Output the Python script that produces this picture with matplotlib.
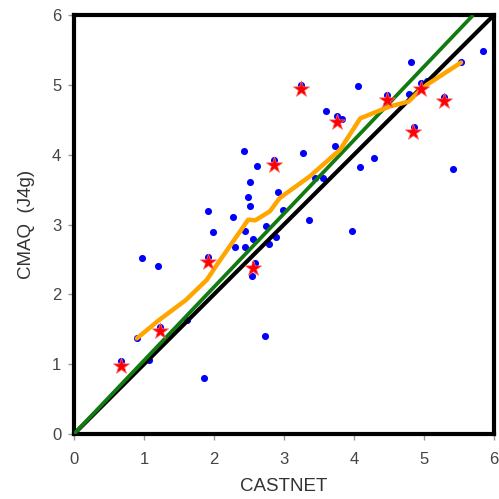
#!/usr/bin/env python3
"""
Scatter of CMAQ (J4g) vs CASTNET with 1:1 line, fit line and running mean.
"""

import matplotlib
matplotlib.use('Agg')
import matplotlib.pyplot as plt

# site values (blue dots)
obs_x = [5.84, 4.81, 4.06, 3.24, 5.53, 4.47, 4.78, 4.96, 5.04, 5.29,
         3.60, 3.76, 3.83, 4.86, 3.73, 3.27, 4.28, 4.09, 5.42, 2.43,
         2.61, 2.86, 2.51, 2.49, 2.52, 2.91, 1.92, 2.27, 2.98, 1.99,
         2.44, 2.74, 2.56, 2.88, 2.30, 2.44, 2.78, 0.97, 1.20, 1.92,
         2.58, 2.54, 2.73, 1.86, 1.61, 3.56, 3.44, 3.36, 3.97, 0.90,
         1.23, 0.68, 1.07]
mod_y = [5.48, 5.33, 4.99, 5.00, 5.32, 4.86, 4.87, 5.02, 5.06, 4.83,
         4.62, 4.55, 4.51, 4.39, 4.13, 4.03, 3.95, 3.83, 3.80, 4.05,
         3.84, 3.92, 3.61, 3.40, 3.27, 3.46, 3.20, 3.11, 3.21, 2.89,
         2.91, 2.98, 2.79, 2.82, 2.68, 2.68, 2.72, 2.52, 2.40, 2.53,
         2.45, 2.26, 1.41, 0.80, 1.63, 3.66, 3.66, 3.07, 2.91, 1.37,
         1.54, 1.04, 1.06]

# highlighted values (red stars)
star_x = [3.24, 4.47, 4.96, 5.29, 3.76, 4.85, 2.86, 1.92, 2.56, 1.23, 0.68]
star_y = [4.94, 4.79, 4.94, 4.77, 4.47, 4.32, 3.85, 2.46, 2.38, 1.47, 0.98]

# running mean (orange)
mean_x = [0.90, 1.20, 1.60, 1.90, 2.04, 2.49, 2.59, 2.80, 2.94, 3.37,
          3.80, 4.09, 4.51, 4.78, 4.90, 5.04, 5.53]
mean_y = [1.37, 1.62, 1.92, 2.21, 2.42, 3.07, 3.06, 3.19, 3.38, 3.69,
          4.07, 4.52, 4.69, 4.76, 4.88, 5.00, 5.32]

# regression slope (green)
fit_slope = 1.052

lo, hi = 0, 6
ticks = [0, 1, 2, 3, 4, 5, 6]

fig = plt.figure(figsize=(4.99, 4.99), dpi=100)
ax = fig.add_axes([0.148, 0.130, 0.842, 0.840])

ax.scatter(obs_x, mod_y, s=26, color='#0000ff', linewidths=0, zorder=2)
ax.plot([lo, hi], [lo, hi], color='black', lw=3.0, zorder=3,
        solid_capstyle='butt')
ax.plot([lo, hi / fit_slope], [lo, hi], color='#117a11', lw=2.7, zorder=4,
        solid_capstyle='butt')
ax.plot(mean_x, mean_y, color='#ffa500', lw=3.2, zorder=5,
        solid_capstyle='round', solid_joinstyle='round')
ax.scatter(star_x, star_y, s=150, marker='*', color='#ff0000',
           edgecolors='#ff6666', linewidths=0.5, zorder=6)

ax.set_xlim(lo, hi)
ax.set_ylim(lo, hi)
ax.set_xticks(ticks)
ax.set_yticks(ticks)

for sp in ax.spines.values():
    sp.set_linewidth(3.0)
    sp.set_color('black')

ax.tick_params(direction='out', length=4, width=1, color='#999999',
               labelcolor='#444444', labelsize=12)
ax.tick_params(axis='x', pad=9)
ax.tick_params(axis='y', pad=5)
for lab in ax.get_xticklabels() + ax.get_yticklabels():
    lab.set_family('Liberation Sans')

ax.set_xlabel('CASTNET', fontsize=13.5, color='#333333',
              family='Liberation Sans', labelpad=8)
ax.set_ylabel('CMAQ  (J4g)', fontsize=13.5, color='#333333',
              family='Liberation Sans', labelpad=12)

fig.savefig('out.png', dpi=100)
